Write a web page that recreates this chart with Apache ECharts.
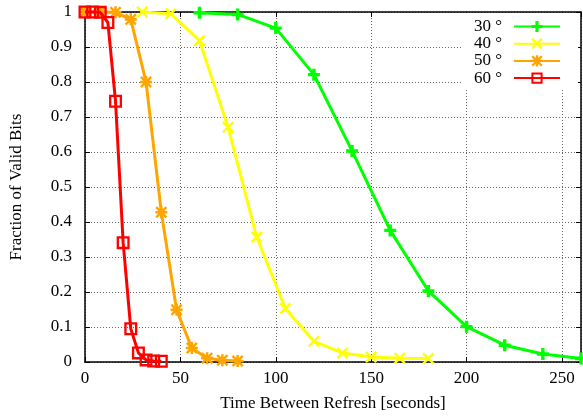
<!DOCTYPE html>
<html>
<head>
<meta charset="utf-8">
<script src="https://cdn.jsdelivr.net/npm/echarts@6/dist/echarts.min.js"></script>
<style>html,body{margin:0;padding:0;background:#fff;}#c{width:583px;height:417px;}</style>
</head>
<body>
<div id="c"></div>
<script>
// Data
const seriesNames = ['30 °', '40 °', '50 °', '60 °'];
const x30 = [60, 80, 100, 120, 140, 160, 180, 200, 220, 240, 260];
const y30 = [0.998, 0.993, 0.954, 0.821, 0.603, 0.376, 0.203, 0.101, 0.048, 0.023, 0.010];
const x40 = [30, 45, 60, 75, 90, 105, 120, 135, 150, 165, 180];
const y40 = [1.0, 0.995, 0.918, 0.671, 0.357, 0.153, 0.059, 0.026, 0.014, 0.011, 0.010];
const x50 = [0, 8, 16, 24, 32, 40, 48, 56, 64, 72, 80];
const y50 = [1.0, 1.0, 0.999, 0.979, 0.800, 0.428, 0.149, 0.040, 0.011, 0.005, 0.003];
const x60 = [0, 4, 8, 12, 16, 20, 24, 28, 32, 36, 40];
const y60 = [1.0, 1.0, 0.999, 0.970, 0.745, 0.341, 0.095, 0.026, 0.006, 0.003, 0.002];
const xTicks = [0, 50, 100, 150, 200, 250];
const yTicks = [0, 0.1, 0.2, 0.3, 0.4, 0.5, 0.6, 0.7, 0.8, 0.9, 1];

const FONT = '"Liberation Serif", "DejaVu Serif", serif';
const colors = ['#00ff00', '#ffff00', '#ffa500', '#ff0000'];
const symPlus = 'path://M5,0h4v5h5v4h-5v5h-4v-5h-5v-4h5z';
const symX = 'path://M0,2L2,0L7,5L12,0L14,2L9,7L14,12L12,14L7,9L2,14L0,12L5,7Z';
const symStar = 'path://M5.5,0h3v5.5h5.5v3h-5.5v5.5h-3v-5.5h-5.5v-3h5.5z M0,2L2,0L7,5L12,0L14,2L9,7L14,12L12,14L7,9L2,14L0,12L5,7Z';
const symSquare = 'path://M0,0H14V14H0Z M2.5,2.5V11.5H11.5V2.5Z';
const symbols = [symPlus, symX, symStar, symSquare];
const xs = [x30, x40, x50, x60];
const ys = [y30, y40, y50, y60];

function pairs(a, b) { return a.map((v, i) => [v, b[i]]); }

const axisLineStyle = { color: '#000', width: 1.5 };
const chart = echarts.init(document.getElementById('c'), null, { renderer: 'canvas' });
chart.setOption({
  animation: false,
  backgroundColor: '#fff',
  textStyle: { fontFamily: FONT },
  grid: { left: 85, right: 2, top: 12, bottom: 53, show: false },
  legend: {
    data: seriesNames,
    right: 5, top: 13,
    orient: 'vertical',
    align: 'right',
    backgroundColor: '#fff',
    padding: [5, 17, 3, 13],
    itemWidth: 46, itemHeight: 14, itemGap: 0.2,
    textStyle: { fontFamily: FONT, fontSize: 17, color: '#000', lineHeight: 14, padding: [0, 7, 0, 0] }
  },
  xAxis: [{
    type: 'value', min: 0, max: 260, interval: 50, position: 'bottom',
    name: 'Time Between Refresh [seconds]', nameLocation: 'middle', nameGap: 33,
    nameTextStyle: { fontFamily: FONT, fontSize: 17, color: '#000' },
    axisLine: { show: true, onZero: false, lineStyle: axisLineStyle },
    axisTick: { show: true, inside: true, length: 5, lineStyle: { color: '#000', width: 1 } },
    axisLabel: { fontFamily: FONT, fontSize: 17, color: '#000', margin: 8, showMaxLabel: false,
      formatter: v => xTicks.includes(v) ? String(v) : '' },
    splitLine: { show: true, lineStyle: { color: '#666', type: [1, 2], width: 1 } }
  }, {
    type: 'value', min: 0, max: 260, interval: 50, position: 'top',
    axisLine: { show: true, onZero: false, lineStyle: axisLineStyle },
    axisTick: { show: true, inside: true, length: 5, lineStyle: { color: '#000', width: 1 } },
    axisLabel: { show: false }, splitLine: { show: false }
  }],
  yAxis: [{
    type: 'value', min: 0, max: 1, interval: 0.1, position: 'left',
    name: 'Fraction of Valid Bits', nameLocation: 'middle', nameGap: 60,
    nameTextStyle: { fontFamily: FONT, fontSize: 17, color: '#000' },
    axisLine: { show: true, onZero: false, lineStyle: axisLineStyle },
    axisTick: { show: true, inside: true, length: 5, lineStyle: { color: '#000', width: 1 } },
    axisLabel: { fontFamily: FONT, fontSize: 17, color: '#000', margin: 13,
      formatter: v => { const r = Math.round(v * 10) / 10; return yTicks.includes(r) ? String(r) : ''; } },
    splitLine: { show: true, lineStyle: { color: '#666', type: [1, 2], width: 1 } }
  }, {
    type: 'value', min: 0, max: 1, interval: 0.1, position: 'right',
    axisLine: { show: true, onZero: false, lineStyle: axisLineStyle },
    axisTick: { show: true, inside: true, length: 5, lineStyle: { color: '#000', width: 1 } },
    axisLabel: { show: false }, splitLine: { show: false }
  }],
  series: seriesNames.map((n, i) => ({
    name: n, type: 'line', xAxisIndex: 0, yAxisIndex: 0,
    data: pairs(xs[i], ys[i]),
    symbol: symbols[i], symbolSize: i === 3 ? 13 : 12, showSymbol: true,
    clip: false,
    lineStyle: { color: colors[i], width: 3 },
    itemStyle: { color: colors[i], borderWidth: 0 },
    emphasis: { disabled: true },
    z: 3 + i
  }))
});
</script>
</body>
</html>
